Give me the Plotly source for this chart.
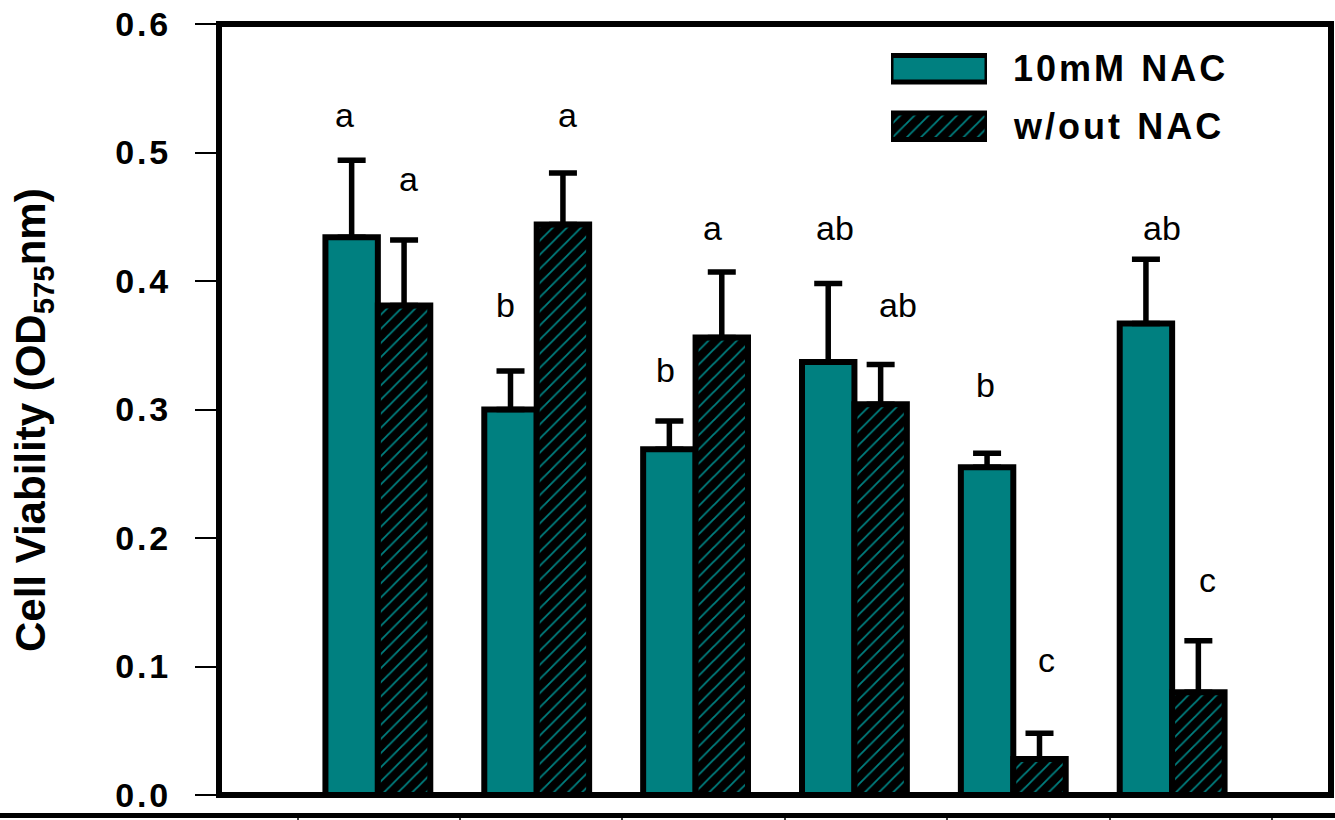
import plotly.graph_objects as go

# Treatment groups (six conditions, unlabeled on the axis)
groups = [0, 1, 2, 3, 4, 5]

# Mean cell viability (OD575nm) and upper error (SE)
nac_mean = [0.434, 0.300, 0.269, 0.337, 0.255, 0.367]
nac_err = [0.060, 0.030, 0.022, 0.061, 0.011, 0.050]
wo_mean = [0.381, 0.444, 0.356, 0.304, 0.028, 0.080]
wo_err = [0.051, 0.040, 0.051, 0.031, 0.020, 0.040]

# Significance letters above each bar
nac_letters = ["a", "b", "b", "ab", "b", "ab"]
wo_letters = ["a", "a", "a", "ab", "c", "c"]
nac_letter_y = [0.529, 0.381, 0.331, 0.441, 0.319, 0.441]
wo_letter_y = [0.479, 0.529, 0.441, 0.381, 0.105, 0.167]
nac_letter_shift = [-7, -5, -4, 7, -2, 16]
wo_letter_shift = [4, 5, -9, 17, 7, 9]

series_names = ["10mM NAC", "w/out NAC"]
y_ticks = [0.0, 0.1, 0.2, 0.3, 0.4, 0.5, 0.6]

TEAL = "#008080"
FONT = "Liberation Sans"
HAIR = "\u200a"
THIN = "\u2009"


def tracked(s):
    # slight letter spacing, with a wider gap between words
    return (" " + THIN).join(HAIR.join(w) for w in s.split(" "))


W, H = 1335, 820
ML, MR, MT, MB = 219, 4, 24, 25
PW, PH = W - ML - MR, H - MT - MB


def px_x(x):
    return (x - ML) / PW


def px_y(y):
    return (H - MB - y) / PH


fig = go.Figure()

fig.add_trace(go.Bar(
    x=groups, y=nac_mean, name=series_names[0], showlegend=False,
    marker=dict(color=TEAL, line=dict(color="black", width=6)),
    error_y=dict(type="data", array=nac_err, arrayminus=[0] * 6, symmetric=False,
                 color="black", thickness=5.5, width=14),
))
fig.add_trace(go.Bar(
    x=groups, y=wo_mean, name=series_names[1], showlegend=False,
    marker=dict(color="black", line=dict(color="black", width=6),
                pattern=dict(shape="/", fgcolor=TEAL, bgcolor="black",
                             size=10, solidity=0.18, fillmode="replace")),
    error_y=dict(type="data", array=wo_err, arrayminus=[0] * 6, symmetric=False,
                 color="black", thickness=5.5, width=14),
))

# Legend swatches drawn as bars on a small inset axis pair
fig.add_trace(go.Bar(
    x=[1], y=[1], base=0, orientation="h", width=0.46,
    xaxis="x2", yaxis="y2", showlegend=False, cliponaxis=False, hoverinfo="skip",
    marker=dict(color=TEAL, line=dict(color="black", width=5)),
))
fig.add_trace(go.Bar(
    x=[1], y=[0], base=0, orientation="h", width=0.46,
    xaxis="x3", yaxis="y2", showlegend=False, cliponaxis=False, hoverinfo="skip",
    marker=dict(color="black", line=dict(color="black", width=5),
                pattern=dict(shape="/", fgcolor=TEAL, bgcolor="black",
                             size=10, solidity=0.18, fillmode="replace")),
))

annotations = []
bar_off = 0.165
for i, g in enumerate(groups):
    annotations.append(dict(x=g - bar_off, y=nac_letter_y[i], text=nac_letters[i],
                            xshift=nac_letter_shift[i], showarrow=False,
                            xanchor="center", yanchor="middle",
                            font=dict(family=FONT, size=34, color="black")))
    annotations.append(dict(x=g + bar_off, y=wo_letter_y[i], text=wo_letters[i],
                            xshift=wo_letter_shift[i], showarrow=False,
                            xanchor="center", yanchor="middle",
                            font=dict(family=FONT, size=34, color="black")))

# Legend labels
for name, ypx in zip(series_names, [68, 127]):
    annotations.append(dict(xref="paper", yref="paper", x=px_x(1011), y=px_y(ypx),
                            text="<b>" + tracked(name) + "</b>", showarrow=False,
                            xanchor="left", yanchor="middle",
                            font=dict(family=FONT, size=36, color="black")))

# Y-axis title
annotations.append(dict(xref="paper", yref="paper", x=px_x(34), y=px_y(420),
                        text="<b>Cell Viability (OD<sub>575</sub>nm)</b>",
                        textangle=-90, showarrow=False,
                        xanchor="center", yanchor="middle",
                        font=dict(family=FONT, size=42, color="black")))

shapes = [
    # plot frame
    dict(type="rect", xref="paper", yref="paper", x0=0, x1=1, y0=0, y1=1,
         line=dict(color="black", width=6), layer="above"),
    # rule of the panel below
    dict(type="line", xref="paper", yref="paper", x0=px_x(-5), x1=px_x(W + 5),
         y0=px_y(815.5), y1=px_y(815.5), line=dict(color="black", width=5)),
]
for tx in [298, 460, 622, 785, 947, 1110, 1272]:
    shapes.append(dict(type="line", xref="paper", yref="paper", x0=px_x(tx), x1=px_x(tx),
                       y0=px_y(818), y1=px_y(824), line=dict(color="black", width=1.5)))

fig.update_layout(
    width=W, height=H,
    margin=dict(l=ML, r=MR, t=MT, b=MB, pad=0),
    paper_bgcolor="white", plot_bgcolor="white",
    barmode="group", bargap=0.34, bargroupgap=0,
    showlegend=False,
    annotations=annotations, shapes=shapes,
    xaxis=dict(range=[-1, 6], showticklabels=False, ticks="", showgrid=False,
               zeroline=False, showline=False, fixedrange=True),
    yaxis=dict(range=[0, 0.6], tickvals=y_ticks,
               ticktext=[HAIR.join(f"{v:.1f}") for v in y_ticks],
               ticks="outside", ticklen=23, tickwidth=1.5, tickcolor="black",
               ticklabelstandoff=20,
               tickfont=dict(family=FONT, size=34, color="black", weight="bold"),
               showgrid=False, zeroline=False, showline=False, fixedrange=True),
    xaxis2=dict(domain=[px_x(891), px_x(987)], range=[0, 1], anchor="y2",
                visible=False, fixedrange=True),
    xaxis3=dict(domain=[px_x(891), px_x(987)], range=[0, 1], anchor="y2",
                overlaying="x2", visible=False, fixedrange=True),
    yaxis2=dict(domain=[px_y(155), px_y(40)], range=[-0.5, 1.5], anchor="x2",
                visible=False, fixedrange=True),
)

fig.write_html("out.html")
